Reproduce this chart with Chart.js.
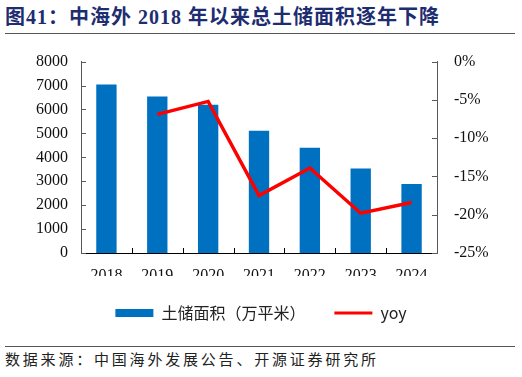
<!DOCTYPE html>
<html>
<head>
<meta charset="utf-8">
<script src="https://cdn.jsdelivr.net/npm/chart.js@4/dist/chart.umd.min.js"></script>
<style>
  html, body { margin: 0; padding: 0; background: #fff; }
  body { width: 522px; height: 377px; position: relative; overflow: hidden; }
  #title {
    position: absolute; left: 5px; top: 5px;
    font-family: "Liberation Serif", "Noto Sans CJK SC", serif;
    font-weight: bold; font-size: 20px; line-height: 24px; letter-spacing: 1px;
    color: #1e2d70; white-space: nowrap;
  }
  .rule { position: absolute; left: 5px; width: 510px; height: 1px; background: #555; }
  #wrap { position: absolute; left: 0; top: 35px; width: 522px; height: 300px; }
  #src {
    position: absolute; left: 5px; top: 350px;
    font-family: "Noto Sans CJK SC", sans-serif;
    font-size: 15px; line-height: 18px; letter-spacing: 2.8px;
    color: #222; white-space: nowrap;
  }
</style>
</head>
<body>
<div id="title">图41：中海外 2018 年以来总土储面积逐年下降</div>
<div class="rule" style="top:33px"></div>
<div id="wrap"><canvas id="chart"></canvas></div>
<div class="rule" style="top:346px"></div>
<div id="src">数据来源：中国海外发展公告、开源证券研究所</div>

<script>
const years = ['2018', '2019', '2020', '2021', '2022', '2023', '2024'];
const landArea = [7040, 6540, 6200, 5110, 4400, 3530, 2880];
const yoy = [null, -6.9, -5.2, -17.5, -13.9, -19.8, -18.4];

// little tick marks pointing into the plot, like the original
const innerTicks = {
    id: 'innerTicks',
    beforeDatasetsDraw(chart) {
        const {ctx, chartArea, scales} = chart;
        const len = 5;
        ctx.save();
        ctx.lineWidth = 1;

        ctx.strokeStyle = '#595959';
        ctx.beginPath();
        scales.y.ticks.forEach((t, i) => {
            const py = Math.round(scales.y.getPixelForTick(i)) + 0.5;
            ctx.moveTo(chartArea.left, py);
            ctx.lineTo(chartArea.left + len, py);
        });
        scales.y1.ticks.forEach((t, i) => {
            const py = Math.round(scales.y1.getPixelForTick(i)) + 0.5;
            ctx.moveTo(chartArea.right, py);
            ctx.lineTo(chartArea.right - len, py);
        });
        ctx.stroke();

        ctx.strokeStyle = '#000';
        ctx.beginPath();
        const n = years.length;
        const step = (scales.x.right - scales.x.left) / n;
        for (let i = 1; i < n; i++) {
            const px = Math.round(scales.x.left + i * step) + 0.5;
            ctx.moveTo(px, chartArea.bottom);
            ctx.lineTo(px, chartArea.bottom - len);
        }
        ctx.stroke();
        ctx.restore();
    }
};

const tickFont = { family: '"Liberation Serif", serif', size: 16 };

const ctx = document.getElementById('chart').getContext('2d');
new Chart(ctx, {
    data: {
        labels: years,
        datasets: [{
            type: 'bar',
            label: '土储面积（万平米）',
            data: landArea,
            backgroundColor: '#0070C0',
            borderWidth: 0,
            barPercentage: 0.5,
            categoryPercentage: 0.8,
            yAxisID: 'y',
            order: 2
        }, {
            type: 'line',
            label: 'yoy',
            data: yoy,
            borderColor: '#FF0000',
            backgroundColor: '#FF0000',
            borderWidth: 3.5,
            pointRadius: 0,
            tension: 0,
            spanGaps: true,
            yAxisID: 'y1',
            order: 1
        }]
    },
    options: {
        responsive: true,
        maintainAspectRatio: false,
        animation: false,
        layout: { padding: { top: 16, bottom: 4, left: 0, right: 0 } },
        plugins: {
            tooltip: { enabled: false },
            legend: {
                position: 'bottom',
                labels: {
                    font: { family: '"Noto Sans CJK SC", sans-serif', size: 16 },
                    color: '#222',
                    usePointStyle: true,
                    pointStyleWidth: 38,
                    boxHeight: 8,
                    padding: 29,
                    sort: (a, b) => a.datasetIndex - b.datasetIndex,
                    generateLabels(chart) {
                        const items = Chart.defaults.plugins.legend.labels.generateLabels(chart);
                        items.forEach(it => {
                            if (it.datasetIndex === 0) {
                                it.pointStyle = 'rect';
                                it.lineWidth = 0;
                            } else {
                                it.pointStyle = 'line';
                                it.lineWidth = 3;
                                it.strokeStyle = '#FF0000';
                            }
                        });
                        return items;
                    }
                }
            }
        },
        scales: {
            x: {
                grid: { display: false, drawTicks: false },
                border: { display: true, color: '#000', width: 1 },
                ticks: { padding: 13, color: '#111', font: tickFont },
                afterFit(scale) { scale.height = 23; }
            },
            y: {
                position: 'left',
                min: 0,
                max: 8000,
                grid: { display: false, drawTicks: false },
                border: { display: true, color: '#595959', width: 1 },
                ticks: {
                    stepSize: 1000,
                    padding: 13,
                    color: '#111',
                    font: tickFont,
                    callback: v => String(v)
                },
                afterFit(scale) { scale.width = 81; }
            },
            y1: {
                position: 'right',
                min: -25,
                max: 0,
                grid: { display: false, drawTicks: false },
                border: { display: true, color: '#595959', width: 1 },
                ticks: {
                    stepSize: 5,
                    padding: 17,
                    color: '#111',
                    font: tickFont,
                    callback: v => v + '%'
                },
                afterFit(scale) { scale.width = 85; }
            }
        }
    },
    plugins: [innerTicks]
});
</script>
</body>
</html>
